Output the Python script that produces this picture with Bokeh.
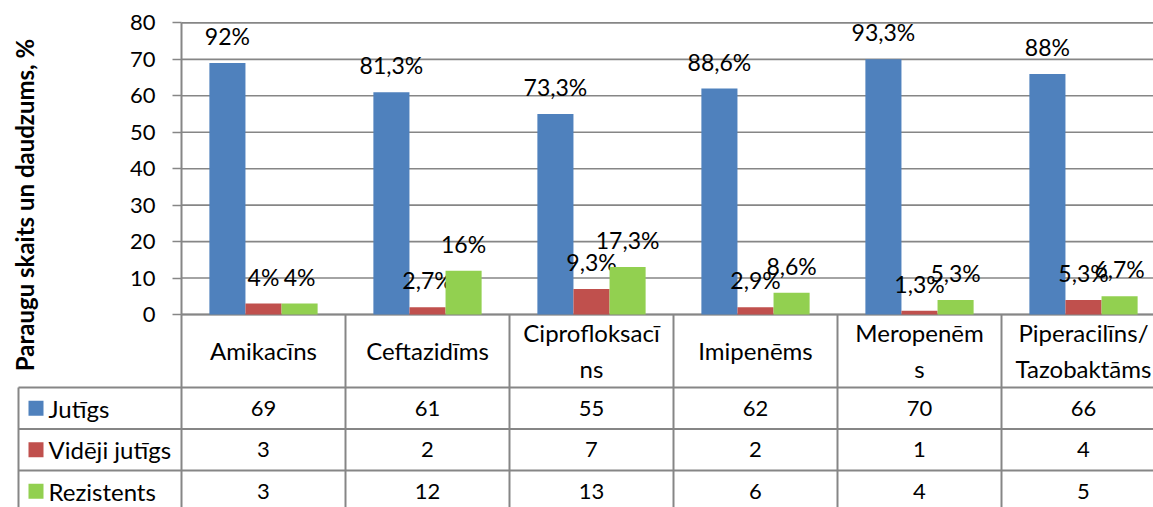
import math
from bokeh.plotting import figure
from bokeh.models import Range1d, FixedTicker
from bokeh.core.properties import value
from bokeh.embed import file_html
from bokeh.resources import INLINE

# ---------------- data ----------------
categories = ["Amikacīns", "Ceftazidīms", "Ciprofloksacī\nns", "Imipenēms",
              "Meropenēm\ns", "Piperacilīns/\nTazobaktāms"]
series = ["Jutīgs", "Vidēji jutīgs", "Rezistents"]
jutigs = [69, 61, 55, 62, 70, 66]
videji_jutigs = [3, 2, 7, 2, 1, 4]
rezistents = [3, 12, 13, 6, 4, 5]
labels_jutigs = ["92%", "81,3%", "73,3%", "88,6%", "93,3%", "88%"]
labels_videji = ["4%", "2,7%", "9,3%", "2,9%", "1,3%", "5,3%"]
labels_rezistents = ["4%", "16%", "17,3%", "8,6%", "5,3%", "6,7%"]
y_ticks = [0, 10, 20, 30, 40, 50, 60, 70, 80]
colors = ["#4F81BD", "#C0504D", "#92D050"]
y_title = "Paraugu skaits un daudzums, %"

# ---------------- layout constants (pixels) ----------------
FONT = "Lato"
GRAY = "#868686"
W, H = 1153, 507
AX_X, AX_Y = 181, 314      # page position of the value axis origin
CELL = 164.0               # px per category
PXU = 3.645                # px per value unit
BAR_W = 0.22
n = len(categories)
values = [jutigs, videji_jutigs, rezistents]
labels = [labels_jutigs, labels_videji, labels_rezistents]


def dy(px_below_axis):
    """pixel distance below the value axis -> data units"""
    return -px_below_axis / PXU


def dx(px_from_axis):
    return px_from_axis / CELL


x_end = dx(W - AX_X)
p = figure(width=W, height=H,
           x_range=Range1d(dx(-AX_X), x_end),
           y_range=Range1d(dy(H - AX_Y), AX_Y / PXU),
           output_backend="svg", toolbar_location=None,
           x_axis_location=None, min_border=0)
p.outline_line_color = None
p.grid.visible = False

# value axis at x = 0 (left edge of the category table)
ax = p.yaxis[0]
ax.fixed_location = 0
ax.ticker = FixedTicker(ticks=y_ticks)
ax.bounds = (0, 80)
ax.axis_line_color = GRAY
ax.axis_line_width = 2
ax.major_tick_line_color = GRAY
ax.major_tick_line_width = 1.6
ax.major_tick_out = 9
ax.major_tick_in = 0
ax.minor_tick_line_color = None
ax.major_label_text_font = FONT
ax.major_label_text_font_size = "22px"
ax.major_label_text_color = "black"
ax.major_label_standoff = 17

# axis title (placed like the original, lower than the axis centre)
p.text(x=[dx(24 - AX_X)], y=[dy(204.5 - AX_Y)], text=[y_title],
       angle=math.pi / 2, text_align="center", text_baseline="middle",
       text_font=value(FONT), text_font_style="bold",
       text_font_size="24px", text_color="black")

# horizontal gridlines (0 line doubles as category axis)
p.segment(x0=[0] * len(y_ticks), y0=y_ticks, x1=[x_end + 1] * len(y_ticks),
          y1=y_ticks, line_color=GRAY, line_width=1.6)
p.segment(x0=[0], y0=[0], x1=[x_end + 1], y1=[0], line_color=GRAY,
          line_width=2)

# bars + data labels
for k in range(3):
    xs = [i + 0.5 + (k - 1) * BAR_W for i in range(n)]
    p.vbar(x=xs, top=values[k], width=BAR_W, fill_color=colors[k],
           line_color=None)
    p.text(x=xs, y=values[k], text=labels[k], y_offset=-27,
           text_align="center", text_baseline="middle",
           text_font=value(FONT), text_font_size="23px", text_color="black")

# ---------------- data table ----------------
HEADER_H = 73
ROW_H = 41.5
row_lines = [dy(HEADER_H + r * ROW_H) for r in range(4)]
row_centers = [dy(HEADER_H + (r + 0.5) * ROW_H) for r in range(3)]
leg_left = dx(18 - AX_X)
bottom = dy(H - AX_Y + 10)

p.segment(x0=list(range(n + 1)), y0=[0] * (n + 1), x1=list(range(n + 1)),
          y1=[bottom] * (n + 1), line_color=GRAY, line_width=2)
p.segment(x0=[leg_left], y0=[row_lines[0]], x1=[leg_left], y1=[bottom],
          line_color=GRAY, line_width=2)
p.segment(x0=[leg_left] * 4, y0=row_lines, x1=[x_end + 1] * 4, y1=row_lines,
          line_color=GRAY, line_width=2)

p.text(x=[i + 0.5 for i in range(n)], y=[dy(36)] * n, text=categories,
       text_align="center", text_baseline="middle", text_line_height=1.25,
       text_font=value(FONT), text_font_size="24px", text_color="black")

p.scatter(x=[dx(35.5 - AX_X)] * 3, y=row_centers, marker="square",
          size=15, fill_color=colors, line_color=None)
p.text(x=[dx(48 - AX_X)] * 3, y=row_centers, text=series,
       text_align="left", text_baseline="middle",
       text_font=value(FONT), text_font_size="24px", text_color="black")

for k in range(3):
    p.text(x=[i + 0.5 for i in range(n)], y=[row_centers[k]] * n,
           text=[str(v) for v in values[k]], text_align="center",
           text_baseline="middle", text_font=value(FONT),
           text_font_size="22px", text_color="black")

open("out.html", "w").write(file_html(p, INLINE))
